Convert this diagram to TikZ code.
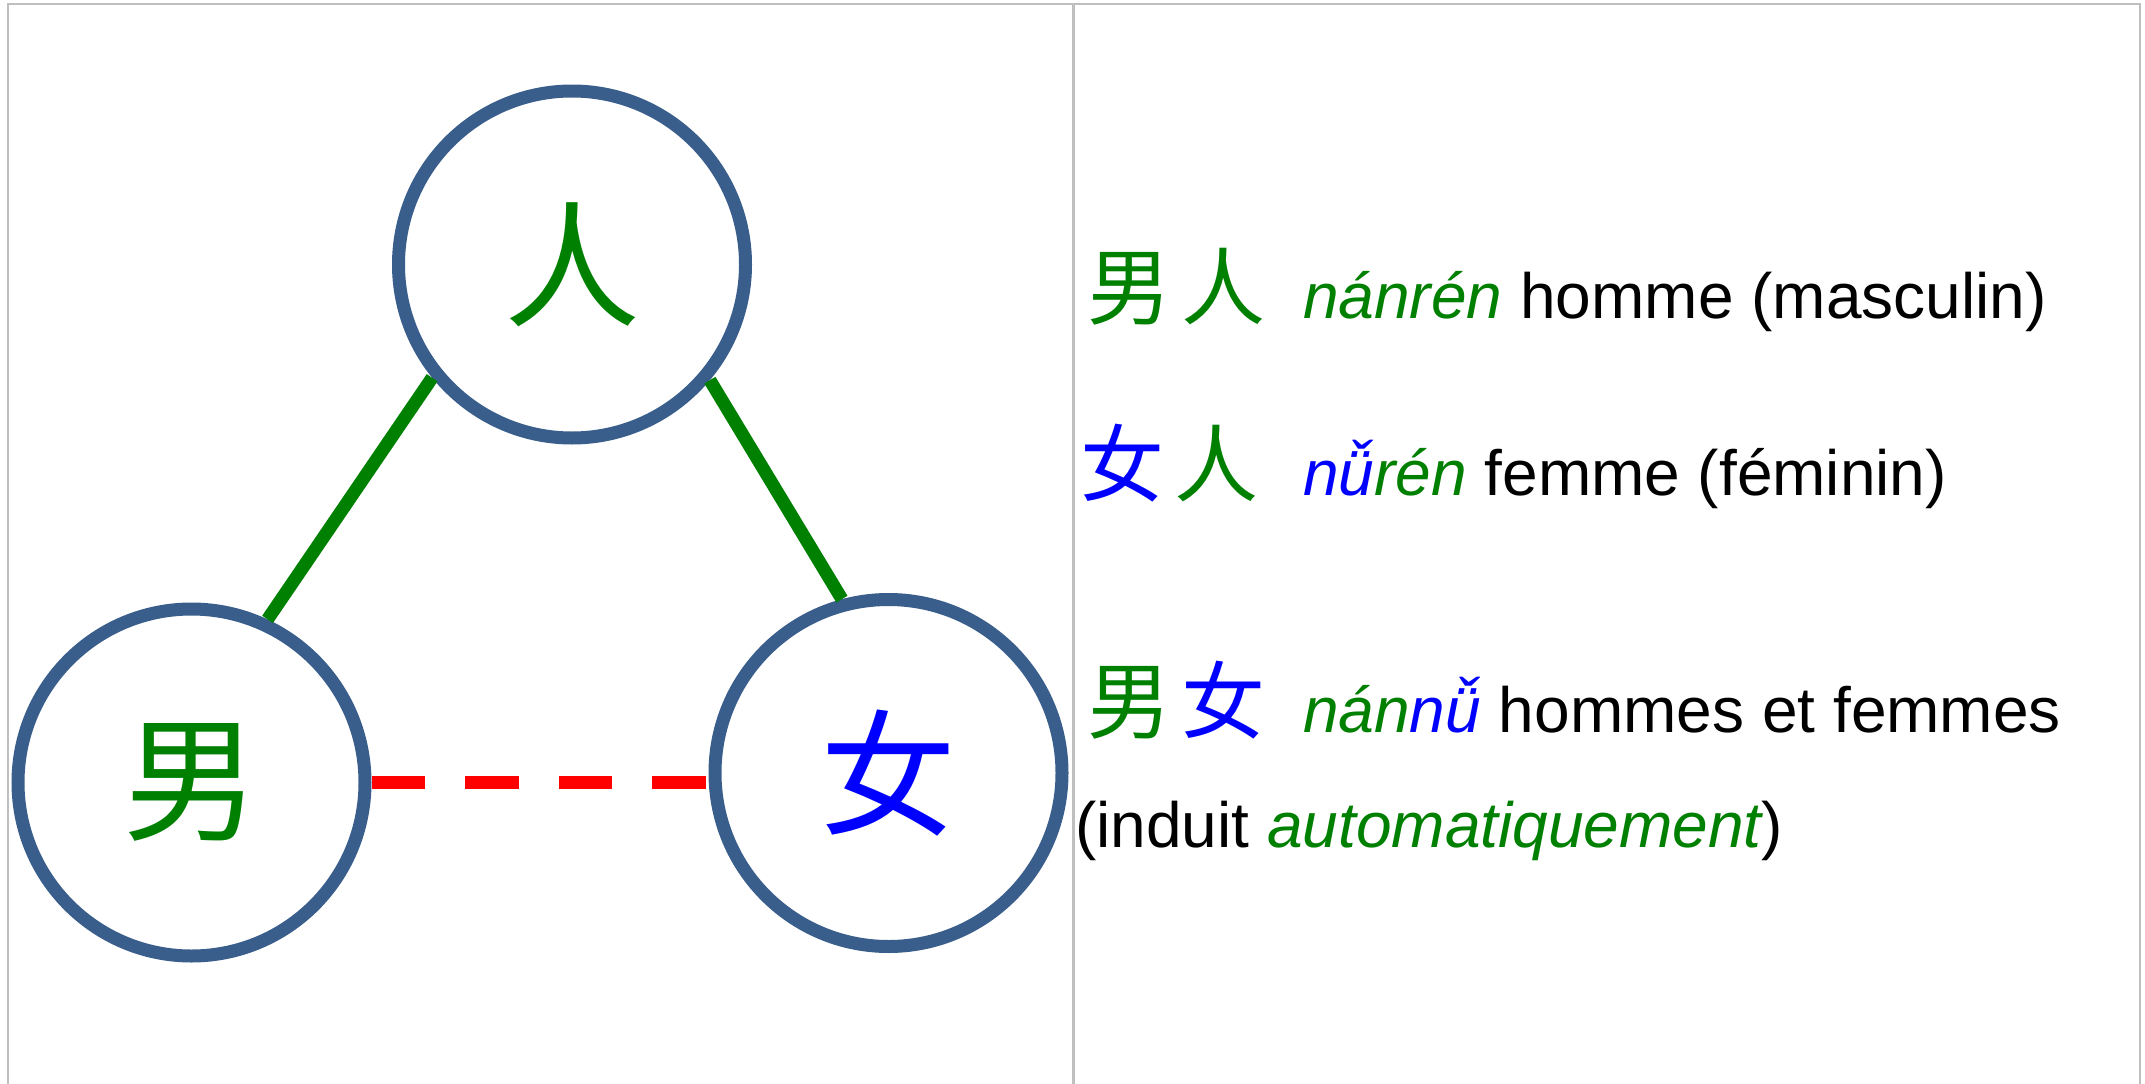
\documentclass[tikz,border=0pt]{standalone}
\usepackage{fontspec}
\setmainfont{Liberation Sans}
\newfontfamily\cjk{Noto Sans CJK SC}
\definecolor{ringblue}{RGB}{58,94,139}
\definecolor{hangreen}{RGB}{0,128,0}
\definecolor{hanblue}{RGB}{0,0,255}
\definecolor{framegray}{RGB}{191,191,191}
\newcommand{\pyg}[1]{\textcolor{hangreen}{\itshape #1}}
\newcommand{\pyb}[1]{\textcolor{hanblue}{\itshape #1}}
\tikzset{
  hanring/.style={circle, draw=ringblue, line width=13pt, minimum size=347pt, inner sep=0pt, font=\cjk\fontsize{136}{136}\selectfont},
  link/.style={hangreen, line width=13pt},
  derived/.style={red, line width=13pt, dash pattern=on 53.5pt off 40pt},
  hanword/.style={anchor=base west, inner sep=0pt, font=\cjk\fontsize{84}{84}\selectfont},
  gloss/.style={anchor=base west, inner sep=0pt, font=\fontsize{64}{77}\selectfont},
  framerule/.style={framegray, line width=2.5pt}
}
\begin{document}
\begin{tikzpicture}[x=1pt,y=-1pt]
\fill[white, use as bounding box] (0,0) rectangle (2145,1084);
% table frame
\draw[framerule] (8,1084) -- (8,4) -- (2140,4) -- (2140,1084);
\draw[framerule] (1073.5,4) -- (1073.5,1084);
% triangle
\node[hanring, text=hangreen] (ren) at (572,264.5){人};
\node[hanring, text=hangreen] (nan) at (191.5,782.5){男};
\node[hanring, text=hanblue] (nv) at (888.5,773){女};
\draw[link] (ren.219) -- (nan.65);
\draw[link] (ren.320) -- (nv.105);
\draw[derived] (nan.east) -- (nan.east -| nv.west);
% right column
\node[hanword] (w1) at (1087,318){\textcolor{hangreen}{男}\hspace{10pt}\textcolor{hangreen}{人}};
\node[gloss] (g1) at (1303,318){\pyg{nánrén} homme (masculin)};
\node[hanword] (w2) at (1080,495){\textcolor{hanblue}{女}\hspace{10pt}\textcolor{hangreen}{人}};
\node[gloss] (g2) at (1303,495){\pyb{nǚ}\pyg{rén} femme (féminin)};
\node[hanword] (w3) at (1087,732){\textcolor{hangreen}{男}\hspace{10pt}\textcolor{hanblue}{女}};
\node[gloss] (g3) at (1303,732){\pyg{nán}\pyb{nǚ} hommes et femmes};
\node[gloss] (g4) at (1075,847){(induit \pyg{automatiquement})};
\end{tikzpicture}
\end{document}
